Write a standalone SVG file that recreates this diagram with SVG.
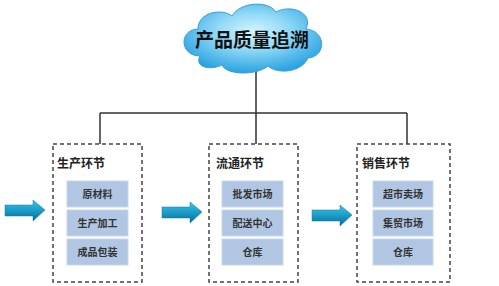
<svg xmlns="http://www.w3.org/2000/svg" width="499" height="286" viewBox="0 0 499 286">
<defs>
<radialGradient id="cloudG" cx="50%" cy="40%" r="60%">
<stop offset="0" stop-color="#d6f6ff"/>
<stop offset="0.45" stop-color="#8fd8f6"/>
<stop offset="1" stop-color="#2aa2e2"/>
</radialGradient>
<linearGradient id="arrowG" x1="0" y1="0" x2="0" y2="1">
<stop offset="0" stop-color="#3fc0e4"/>
<stop offset="0.5" stop-color="#1a9cc8"/>
<stop offset="1" stop-color="#0b6a92"/>
</linearGradient>
<style>
.stage{fill:#ffffff;stroke:#444;stroke-width:1.5;stroke-dasharray:4 3}
.item{fill:#b0c6e2;stroke:#c9d8ec;stroke-width:1}
.title{font-family:"Noto Sans CJK SC","Noto Sans",sans-serif;font-size:12px;font-weight:bold;fill:#222}
.itext{font-family:"Noto Sans CJK SC","Noto Sans",sans-serif;font-size:10px;font-weight:bold;fill:#333;text-anchor:middle}
.conn{fill:none;stroke:#333;stroke-width:1.5}
.arrow{fill:url(#arrowG);stroke:#0e7aa6;stroke-width:0.5}
</style>
</defs>
<rect width="499" height="286" fill="#ffffff"/>
<g id="connectors">
<path class="conn" d="M256,70 V113 M100,113 H407 M100,113 V144 M256,113 V144 M407,113 V144"/>
</g>
<g id="cloud">
<path d="M200,56 C180,56 178,30 198,29 C198,12 222,8 232,16 C240,2 268,0 276,12 C290,4 314,12 306,29 C327,31 326,57 308,58 C302,72 278,75 268,66 C256,76 226,75 222,65 C210,71 194,67 200,56 Z" fill="url(#cloudG)" stroke="#3a9fd6" stroke-width="1"/>
<text x="252" y="47" font-family="Noto Sans CJK SC, sans-serif" font-size="19" font-weight="bold" fill="#111" text-anchor="middle">产品质量追溯</text>
</g>
<g id="arrow1"><path class="arrow" d="M5,205 H33 V200 L45,210 L33,221 V216 H5 Z"/></g>
<g id="arrow2"><path class="arrow" d="M162,207 H190 V202 L202,212 L190,223 V218 H162 Z"/></g>
<g id="arrow3"><path class="arrow" d="M312,210 H340 V205 L352,215 L340,226 V221 H312 Z"/></g>
<g id="stage-production">
<rect class="stage" x="53" y="144" width="89" height="138"/>
<text class="title" x="57" y="168">生产环节</text>
<rect class="item" x="67" y="181" width="61" height="26"/>
<text class="itext" x="97.5" y="198">原材料</text>
<rect class="item" x="67" y="210" width="61" height="26"/>
<text class="itext" x="97.5" y="227">生产加工</text>
<rect class="item" x="67" y="239" width="61" height="26"/>
<text class="itext" x="97.5" y="256">成品包装</text>
</g>
<g id="stage-circulation">
<rect class="stage" x="209" y="144" width="89" height="138"/>
<text class="title" x="216" y="168">流通环节</text>
<rect class="item" x="222" y="181" width="61" height="26"/>
<text class="itext" x="252.5" y="198">批发市场</text>
<rect class="item" x="222" y="210" width="61" height="26"/>
<text class="itext" x="252.5" y="227">配送中心</text>
<rect class="item" x="222" y="239" width="61" height="26"/>
<text class="itext" x="252.5" y="256">仓库</text>
</g>
<g id="stage-sales">
<rect class="stage" x="357" y="144" width="93" height="138"/>
<text class="title" x="362" y="168">销售环节</text>
<rect class="item" x="373" y="181" width="60" height="26"/>
<text class="itext" x="403" y="198">超市卖场</text>
<rect class="item" x="373" y="210" width="60" height="26"/>
<text class="itext" x="403" y="227">集贸市场</text>
<rect class="item" x="373" y="239" width="60" height="26"/>
<text class="itext" x="403" y="256">仓库</text>
</g>
</svg>
